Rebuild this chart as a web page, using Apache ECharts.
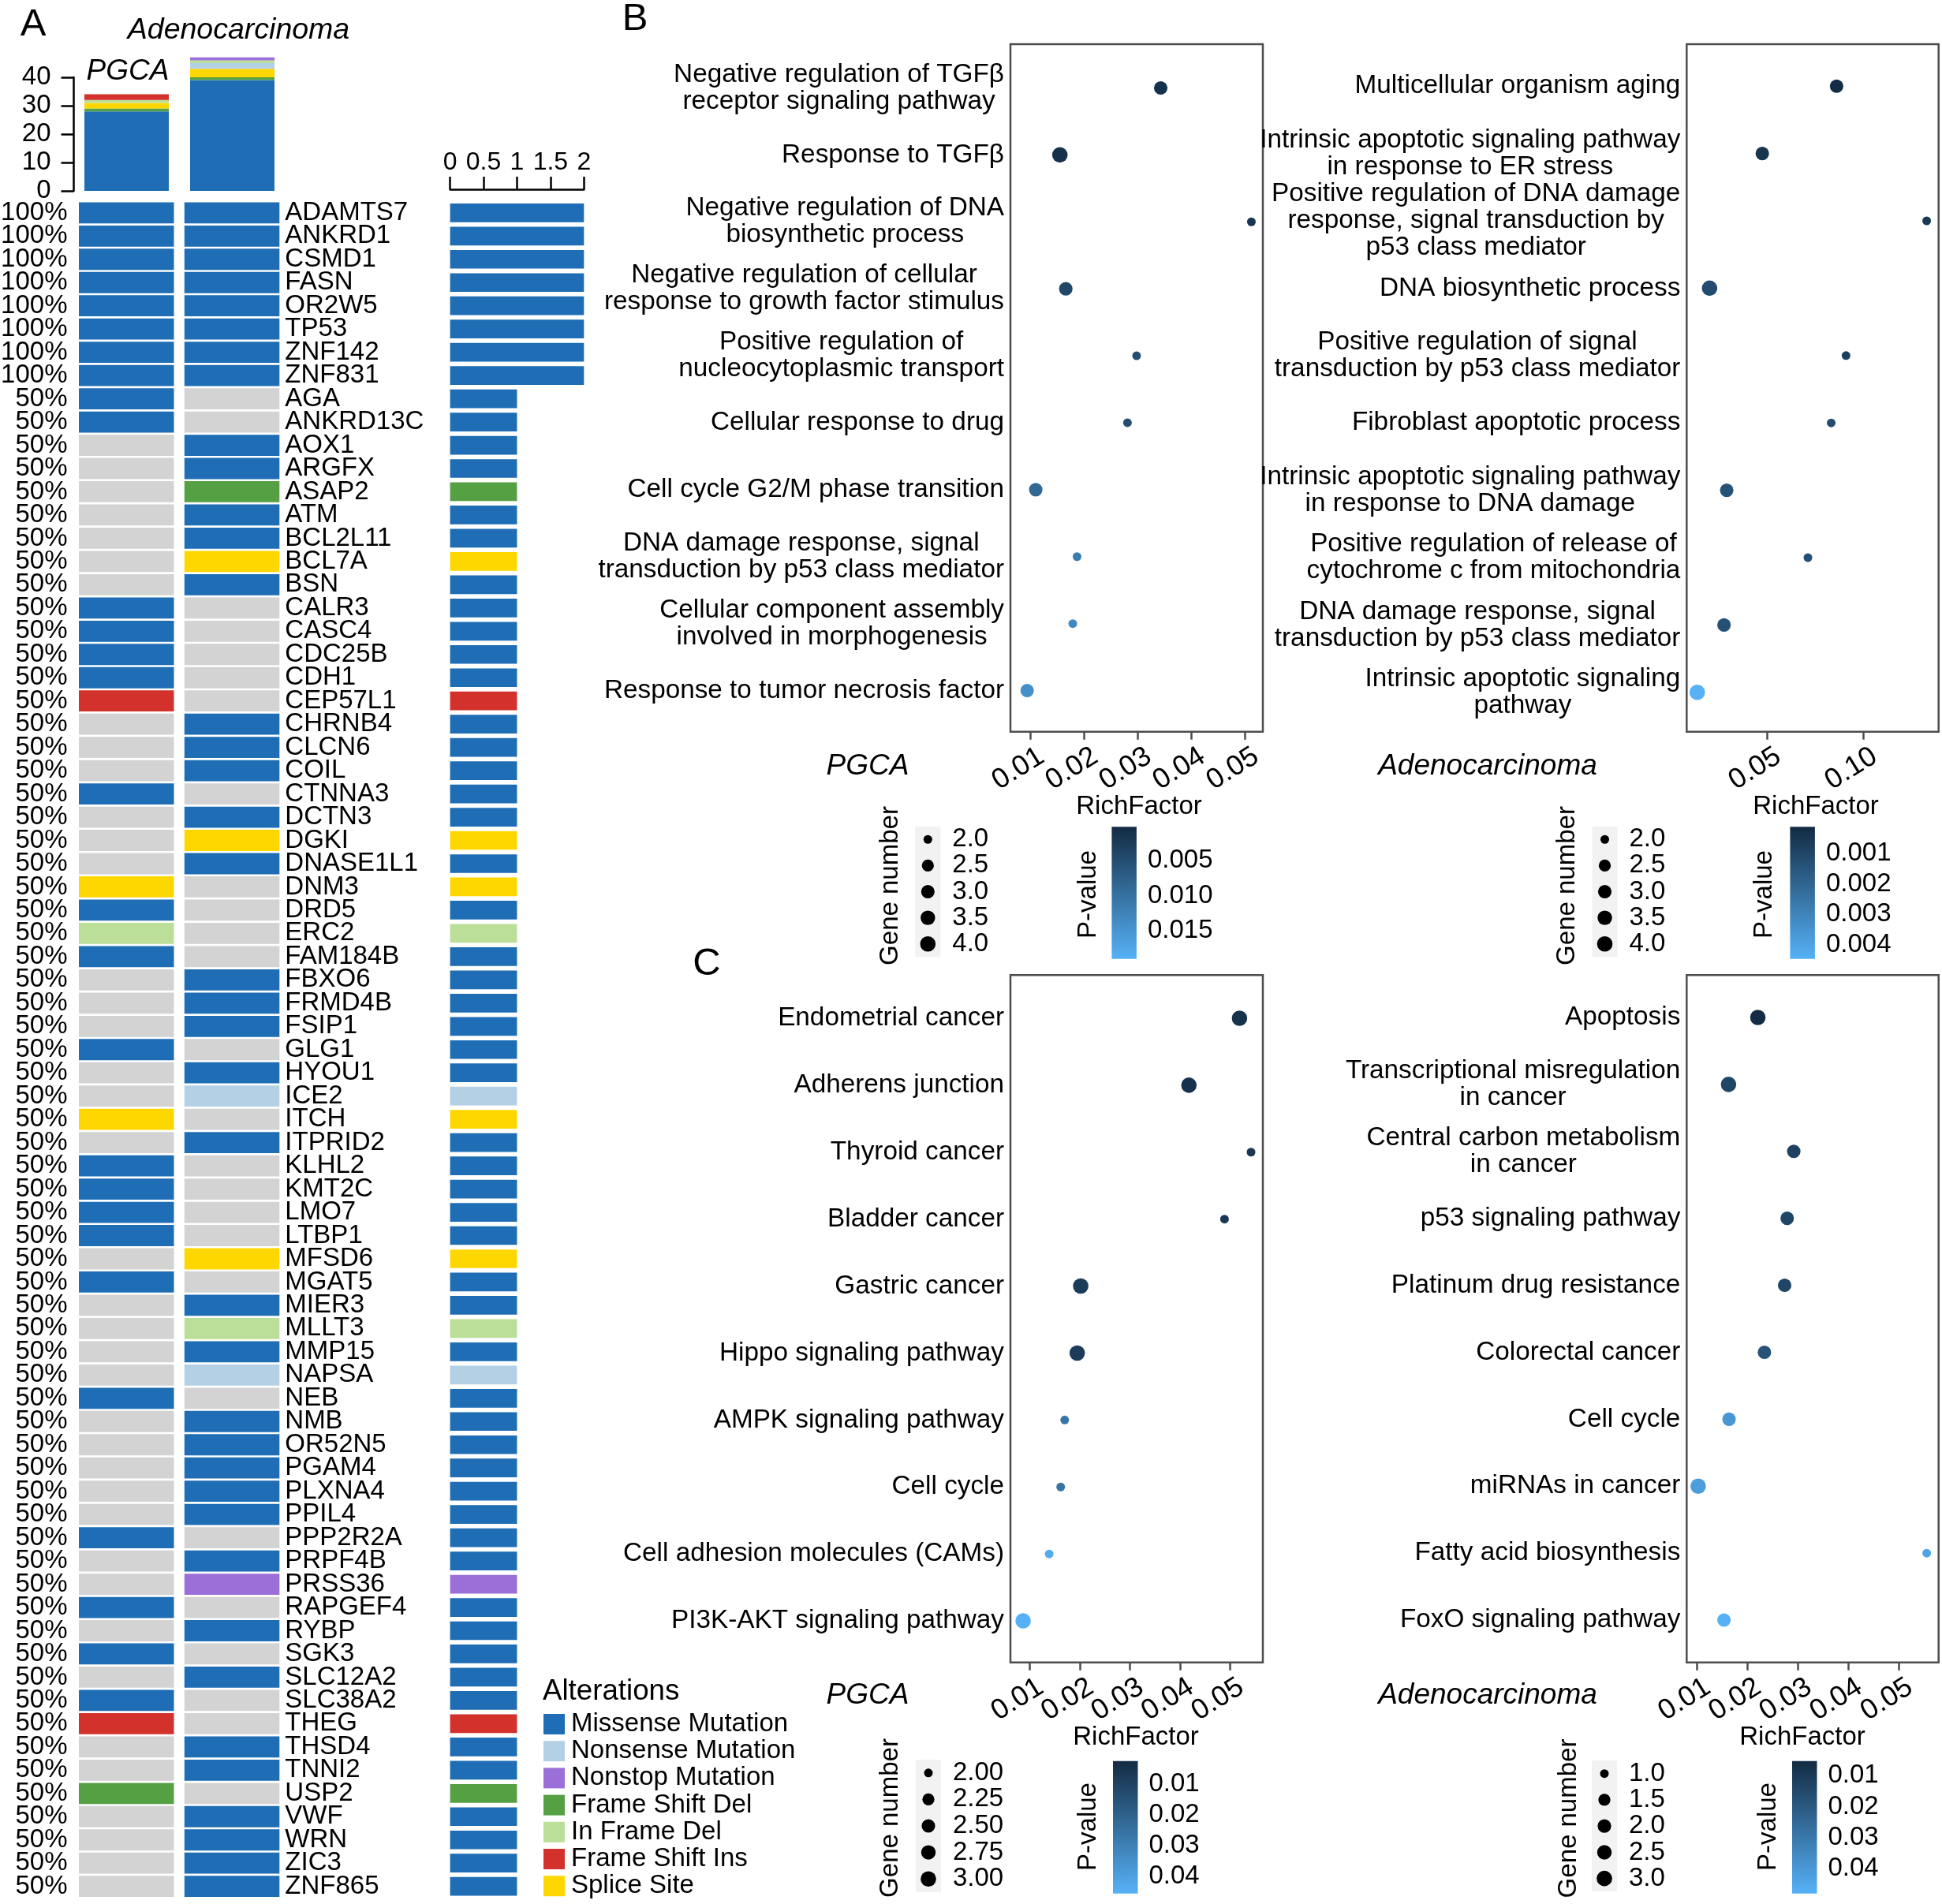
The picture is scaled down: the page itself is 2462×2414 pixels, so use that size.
<!DOCTYPE html>
<html><head><meta charset="utf-8">
<style>html,body{margin:0;padding:0;background:#fff}#c{width:2462px;height:2414px}</style>
<script src="https://cdn.jsdelivr.net/npm/echarts@6/dist/echarts.min.js"></script>
</head><body><div id="c"></div>
<script>
// ---------- Panel A data ----------
const genes = ['ADAMTS7','ANKRD1','CSMD1','FASN','OR2W5','TP53','ZNF142','ZNF831','AGA','ANKRD13C','AOX1','ARGFX','ASAP2','ATM','BCL2L11','BCL7A','BSN','CALR3','CASC4','CDC25B','CDH1','CEP57L1','CHRNB4','CLCN6','COIL','CTNNA3','DCTN3','DGKI','DNASE1L1','DNM3','DRD5','ERC2','FAM184B','FBXO6','FRMD4B','FSIP1','GLG1','HYOU1','ICE2','ITCH','ITPRID2','KLHL2','KMT2C','LMO7','LTBP1','MFSD6','MGAT5','MIER3','MLLT3','MMP15','NAPSA','NEB','NMB','OR52N5','PGAM4','PLXNA4','PPIL4','PPP2R2A','PRPF4B','PRSS36','RAPGEF4','RYBP','SGK3','SLC12A2','SLC38A2','THEG','THSD4','TNNI2','USP2','VWF','WRN','ZIC3','ZNF865'];
// M missense, N nonsense, T nonstop, F frame shift del, D in frame del, I frame shift ins, S splice site, - none
const pgcaAlt = ['M','M','M','M','M','M','M','M','M','M','-','-','-','-','-','-','-','M','M','M','M','I','-','-','-','M','-','-','-','S','M','D','M','-','-','-','M','-','-','S','-','M','M','M','M','-','M','-','-','-','-','M','-','-','-','-','-','M','-','-','M','-','M','-','M','I','-','-','F','-','-','-','-'];
const adenoAlt = ['M','M','M','M','M','M','M','M','-','-','M','M','F','M','M','S','M','-','-','-','-','-','M','M','M','-','M','S','M','-','-','-','-','M','M','M','-','M','N','-','M','-','-','-','-','S','-','M','D','M','N','-','M','M','M','M','M','-','M','T','-','M','-','M','-','-','M','M','-','M','M','M','M'];
const altFreq = [2,2,2,2,2,2,2,2,1,1,1,1,1,1,1,1,1,1,1,1,1,1,1,1,1,1,1,1,1,1,1,1,1,1,1,1,1,1,1,1,1,1,1,1,1,1,1,1,1,1,1,1,1,1,1,1,1,1,1,1,1,1,1,1,1,1,1,1,1,1,1,1,1];
const pctLabels = ['100%','100%','100%','100%','100%','100%','100%','100%'].concat(genes.slice(8).map(()=>'50%'));
const cohorts = ['PGCA','Adenocarcinoma'];
const altNames = ['Missense Mutation','Nonsense Mutation','Nonstop Mutation','Frame Shift Del','In Frame Del','Frame Shift Ins','Splice Site'];
const topMissense = [28,39], topFSDel = [1,1], topSplice = [2,3], topNonsense = [0,2], topInFrame = [1,1], topNonstop = [0,1], topFSIns = [2,0];

// ---------- Panels B / C data ----------
const bpPgcaTerms = ['Negative regulation of TGFβ\nreceptor signaling pathway','Response to TGFβ','Negative regulation of DNA\nbiosynthetic process','Negative regulation of cellular\nresponse to growth factor stimulus','Positive regulation of\nnucleocytoplasmic transport','Cellular response to drug','Cell cycle G2/M phase transition','DNA damage response, signal\ntransduction by p53 class mediator','Cellular component assembly\ninvolved in morphogenesis','Response to tumor necrosis factor'];
const bpPgcaRich = [.0343,.0155,.0512,.0166,.0298,.0281,.0110,.0187,.0179,.0094];
const bpPgcaP = [.0011,.0011,.0017,.004,.005,.005,.0087,.0115,.0134,.0143];
const bpPgcaGenes = [3,4,2,3,2,2,3,2,2,3];
const bpAdenoTerms = ['Multicellular organism aging','Intrinsic apoptotic signaling pathway\nin response to ER stress','Positive regulation of DNA damage\nresponse, signal transduction by\np53 class mediator','DNA biosynthetic process','Positive regulation of signal\ntransduction by p53 class mediator','Fibroblast apoptotic process','Intrinsic apoptotic signaling pathway\nin response to DNA damage','Positive regulation of release of\ncytochrome c from mitochondria','DNA damage response, signal\ntransduction by p53 class mediator','Intrinsic apoptotic signaling\npathway'];
const bpAdenoRich = [.0861,.0475,.1329,.0201,.0910,.0833,.0290,.0712,.0276,.0137];
const bpAdenoP = [.0002,.00042,.00056,.0012,.00077,.0012,.0014,.0013,.00134,.00447];
const bpAdenoGenes = [3,3,2,4,2,2,3,2,3,4];
const keggPgcaTerms = ['Endometrial cancer','Adherens junction','Thyroid cancer','Bladder cancer','Gastric cancer','Hippo signaling pathway','AMPK signaling pathway','Cell cycle','Cell adhesion molecules (CAMs)','PI3K-AKT signaling pathway'];
const keggPgcaRich = [.0519,.0418,.0542,.0489,.0202,.0195,.0170,.0162,.0139,.0087];
const keggPgcaP = [.0046,.0046,.0067,.0067,.0076,.0080,.0262,.0262,.0435,.0457];
const keggPgcaGenes = [3,3,2,2,3,3,2,2,2,3];
const keggAdenoTerms = ['Apoptosis','Transcriptional misregulation\nin cancer','Central carbon metabolism\nin cancer','p53 signaling pathway','Platinum drug resistance','Colorectal cancer','Cell cycle','miRNAs in cancer','Fatty acid biosynthesis','FoxO signaling pathway'];
const keggAdenoRich = [.0221,.0163,.0292,.0279,.0274,.0234,.0164,.0103,.0555,.0154];
const keggAdenoP = [.0053,.0138,.0125,.0138,.0138,.0181,.0396,.0417,.0439,.0481];
const keggAdenoGenes = [3,3,2,2,2,2,2,3,1,2];
const sizeTicksA = ['2.0','2.5','3.0','3.5','4.0'];
const sizeTicksB = ['2.00','2.25','2.50','2.75','3.00'];
const sizeTicksC = ['1.0','1.5','2.0','2.5','3.0'];
const richTicks2 = [.01,.02,.03,.04,.05];
const richTicksBroad = [.05,.10];
const pTicksBP1 = [.005,.01,.015];
const pTicksBP2 = [.001,.002,.003,.004];
const pTicks4 = [.01,.02,.03,.04];

// ---------- Styles ----------
const FONT = '"Liberation Sans", Arial, sans-serif';
const altColor = {M:'#1E6DB5',N:'#B3D0E5',T:'#9A6FD8',F:'#56A044',D:'#BBDF98',I:'#D3312B',S:'#FFD700','-':'#D3D3D3'};
const LOW = '#132B43', HIGH = '#56B1F7', FRAME = '#4d4d4d';
const grid=[], xAxis=[], yAxis=[], series=[], visualMap=[], graphic=[];
function addGrid(g){g.outerBoundsMode='none';g.containLabel=false;grid.push(g);return grid.length-1;}
function addX(a){xAxis.push(a);return xAxis.length-1;}
function addY(a){yAxis.push(a);return yAxis.length-1;}
function text(x,y,t,size,opt){opt=opt||{};graphic.push({type:'text',x:x,y:y,rotation:opt.rot||0,silent:true,
  style:{x:0,y:0,text:t,fill:'#000',align:opt.align||'center',verticalAlign:'middle',font:(opt.italic?'italic ':'')+size+'px '+FONT}});}

// ---------- Panel A: stacked bars ----------
(function(){
  const g=addGrid({left:93.5,top:98,width:268,height:144});
  const x=addX({type:'category',gridIndex:g,data:cohorts,show:false});
  const y=addY({type:'value',gridIndex:g,min:0,max:40,interval:10,
    axisLine:{show:true,lineStyle:{color:'#000',width:2.5}},axisTick:{show:true,length:16,lineStyle:{color:'#000',width:2.5}},
    splitLine:{show:false},axisLabel:{color:'#000',fontSize:33,fontFamily:FONT,margin:29,padding:[8,0,0,0]}});
  [['Missense Mutation',topMissense,'M'],['Frame Shift Del',topFSDel,'F'],['Splice Site',topSplice,'S'],['Nonsense Mutation',topNonsense,'N'],['In Frame Del',topInFrame,'D'],['Nonstop Mutation',topNonstop,'T'],['Frame Shift Ins',topFSIns,'I']].forEach(s=>{
    series.push({type:'bar',name:s[0],xAxisIndex:x,yAxisIndex:y,stack:'top',barWidth:107,clip:false,data:s[1],itemStyle:{color:altColor[s[2]]}});
  });
})();
// heat columns
function heatColumn(left,alts,yCfg){
  const g=addGrid({left:left,top:255.1,width:120.5,height:2151.3});
  const x=addX({type:'value',gridIndex:g,min:0,max:1,show:false});
  const y=addY(Object.assign({type:'category',gridIndex:g,inverse:true,data:genes,axisLine:{show:false},axisTick:{show:false}},yCfg));
  series.push({type:'bar',xAxisIndex:x,yAxisIndex:y,barWidth:26.8,silent:true,
    data:alts.map(a=>({value:1,itemStyle:{color:altColor[a]}}))});
}
heatColumn(100,pgcaAlt,{axisLabel:{interval:0,color:'#000',fontSize:33,fontFamily:FONT,margin:14.5,padding:[4,0,0,0],formatter:(v,i)=>pctLabels[i]}});
heatColumn(233.8,adenoAlt,{position:'right',axisLabel:{interval:0,color:'#000',fontSize:33,fontFamily:FONT,margin:7,padding:[4,0,0,0]}});
// right frequency bars
(function(){
  const g=addGrid({left:570.6,top:255.1,width:169.7,height:2151.3});
  const x=addX({type:'value',gridIndex:g,min:0,max:2,interval:.5,position:'top',offset:15,
    axisLine:{show:true,lineStyle:{color:'#000',width:2.5}},axisTick:{show:true,length:16,lineStyle:{color:'#000',width:2.5}},
    splitLine:{show:false},axisLabel:{color:'#000',fontSize:32,fontFamily:FONT,margin:18,hideOverlap:false,showMinLabel:true,showMaxLabel:true}});
  const y=addY({type:'category',gridIndex:g,inverse:true,data:genes,show:false});
  series.push({type:'bar',xAxisIndex:x,yAxisIndex:y,barWidth:23.7,silent:true,
    data:altFreq.map((v,i)=>({value:v,itemStyle:{color:altColor[pgcaAlt[i]!=='-'?pgcaAlt[i]:adenoAlt[i]]}}))});
})();

// ---------- Bubble panels ----------
function dotSize(g,lo,hi){return 11+8.6*Math.sqrt((g-lo)/(hi-lo));}
function richAxis(g,c,off,ticks){
  return addX({type:'value',gridIndex:g,min:c.min,max:c.max,position:'bottom',offset:off,scale:true,
    axisLine:{show:false},splitLine:{show:false},
    axisTick:{show:true,length:10,customValues:ticks,lineStyle:{color:FRAME,width:2.5}},
    axisLabel:{customValues:ticks,rotate:32,align:'center',verticalAlign:'middle',padding:[0,36,0,0],lineHeight:28,fontSize:36,color:'#000',fontFamily:FONT,margin:37.5,hideOverlap:false,showMinLabel:true,showMaxLabel:true,formatter:v=>(+v).toFixed(2)}});
}
function bubble(c){
  addGrid({left:c.left,top:c.top,width:c.w,height:c.h,show:true,borderColor:FRAME,borderWidth:2.5,backgroundColor:'#fff'});
  const g=addGrid({left:c.left,top:c.innerTop,width:c.w,height:c.innerH});
  const off=(c.top+c.h)-(c.innerTop+c.innerH);
  // alternate ticks live on two coincident axes so that the rotated labels are never thinned out
  const x=richAxis(g,c,off,c.ticks.filter((t,i)=>i%2===0));
  const oddTicks=c.ticks.filter((t,i)=>i%2===1);
  richAxis(g,c,off,oddTicks);
  const y=addY({type:'category',gridIndex:g,inverse:true,data:c.terms,axisLine:{show:false},axisTick:{show:false},
    axisLabel:{interval:0,align:'right',margin:8,hideOverlap:false,color:'#000',fontFamily:FONT,fontSize:33.3,
      formatter:v=>v.split('\n').map(l=>'{c|'+l+'}').join('\n'),
      rich:{c:{align:'center',fontSize:33.3,lineHeight:34,color:'#000',fontFamily:FONT}}}});
  const lo=+c.sizeTicks[0], hi=+c.sizeTicks[4];
  series.push({type:'scatter',xAxisIndex:x,yAxisIndex:y,clip:false,silent:true,
    data:c.rich.map((r,i)=>[r,i,c.p[i],c.genes[i]]),encode:{x:0,y:1},
    symbolSize:v=>dotSize(v[3],lo,hi),itemStyle:{opacity:1}});
  visualMap.push({type:'continuous',show:false,seriesIndex:series.length-1,dimension:2,min:c.pMin,max:c.pMax,inRange:{color:[LOW,HIGH]}});
  // size legend
  const lg=addGrid({left:c.sl,top:c.st,width:32,height:c.sh,show:true,borderWidth:0,backgroundColor:'#f2f2f2'});
  const lx=addX({type:'category',gridIndex:lg,data:['n'],show:false});
  const ly=addY({type:'category',gridIndex:lg,inverse:true,position:'right',data:c.sizeTicks,axisLine:{show:false},axisTick:{show:false},
    axisLabel:{interval:0,color:'#000',fontSize:33,fontFamily:FONT,margin:15}});
  series.push({type:'scatter',xAxisIndex:lx,yAxisIndex:ly,silent:true,itemStyle:{color:'#000',opacity:1},
    data:c.sizeTicks.map(t=>['n',t]),symbolSize:v=>dotSize(+v[1],lo,hi)});
  // colour bar
  const cg=addGrid({left:c.cl,top:c.ct,width:31.5,height:c.ch});
  const cx=addX({type:'category',gridIndex:cg,data:['p'],show:false});
  const cy=addY({type:'value',gridIndex:cg,inverse:true,position:'right',min:c.pMin,max:c.pMax,axisLine:{show:false},splitLine:{show:false},
    axisTick:{show:true,inside:true,length:6,customValues:c.pTicks,lineStyle:{color:'rgba(255,255,255,.7)',width:1.5}},
    axisLabel:{customValues:c.pTicks,color:'#000',fontSize:33,fontFamily:FONT,margin:14,padding:[5,0,0,0],hideOverlap:false,showMinLabel:true,showMaxLabel:true,formatter:v=>(+v).toFixed(c.pDigits)}});
  addY({type:'value',gridIndex:cg,inverse:true,position:'left',min:c.pMin,max:c.pMax,axisLine:{show:false},splitLine:{show:false},axisLabel:{show:false},
    axisTick:{show:true,inside:true,length:6,customValues:c.pTicks,lineStyle:{color:'rgba(255,255,255,.7)',width:1.5}}});
  series.push({type:'bar',xAxisIndex:cx,yAxisIndex:cy,barWidth:'100%',silent:true,data:[c.pMax],
    itemStyle:{color:{type:'linear',x:0,y:0,x2:0,y2:1,colorStops:[{offset:0,color:LOW},{offset:1,color:HIGH}]}}});
  // captions
  text(c.geneX+1.5,c.geneY,'Gene number',33,{rot:Math.PI/2});
  text(c.pX+1.5,c.pY,'P-value',33,{rot:Math.PI/2});
  text(c.rfX,c.rfY+1.5,'RichFactor',33);
  text(c.nameX,c.nameY,c.name,37,{italic:true});
}
bubble({name:'PGCA',terms:bpPgcaTerms,rich:bpPgcaRich,p:bpPgcaP,genes:bpPgcaGenes,sizeTicks:sizeTicksA,ticks:richTicks2,pTicks:pTicksBP1,pDigits:3,
  left:1281,top:56,w:320,h:871.7,innerTop:69,innerH:849,min:.00628,max:.05334,pMin:.0002,pMax:.019,
  sl:1160.3,st:1047.7,sh:165.6,cl:1409.4,ct:1048.3,ch:167.4,geneX:1127,geneY:1123,pX:1378.6,pY:1134,rfX:1444,rfY:1021,nameX:1100,nameY:972});
bubble({name:'Adenocarcinoma',terms:bpAdenoTerms,rich:bpAdenoRich,p:bpAdenoP,genes:bpAdenoGenes,sizeTicks:sizeTicksA,ticks:richTicksBroad,pTicks:pTicksBP2,pDigits:3,
  left:2138.3,top:56,w:319.4,h:871.7,innerTop:66.5,innerH:854,min:.0082,max:.1391,pMin:.00012,pMax:.00447,
  sl:2018.5,st:1047.7,sh:165.6,cl:2269.4,ct:1048.3,ch:167.4,geneX:1985,geneY:1123,pX:2235.6,pY:1134,rfX:2302,rfY:1021,nameX:1886,nameY:972});
bubble({name:'PGCA',terms:keggPgcaTerms,rich:keggPgcaRich,p:keggPgcaP,genes:keggPgcaGenes,sizeTicks:sizeTicksB,ticks:richTicks2,pTicks:pTicks4,pDigits:2,
  left:1281,top:1236.3,w:320,h:871.4,innerTop:1248.5,innerH:849,min:.00617,max:.05656,pMin:.0024,pMax:.0457,
  sl:1161,st:2231,sh:168,cl:1411,ct:2232.7,ch:168,geneX:1127,geneY:2305,pX:1378.6,pY:2316,rfX:1440,rfY:2201,nameX:1100,nameY:2149.5});
bubble({name:'Adenocarcinoma',terms:keggAdenoTerms,rich:keggAdenoRich,p:keggAdenoP,genes:keggAdenoGenes,sizeTicks:sizeTicksC,ticks:richTicks2,pTicks:pTicks4,pDigits:2,
  left:2138.3,top:1236.3,w:319.4,h:871.4,innerTop:1247.5,innerH:849,min:.00802,max:.05785,pMin:.00525,pMax:.0481,
  sl:2018,st:2232,sh:166.3,cl:2272,ct:2232.7,ch:168,geneX:1987.7,geneY:2305.5,pX:2240,pY:2316,rfX:2285,rfY:2201,nameX:1886,nameY:2149.5});

// ---------- Free captions ----------
text(42,31,'A',49); text(805,24,'B',49); text(896,1222,'C',49);
text(302.5,38.5,'Adenocarcinoma',37.5,{italic:true});
text(162,91,'PGCA',37,{italic:true});
text(688,2144.5,'Alterations',36.7,{align:'left'});

const chart=echarts.init(document.getElementById('c'),null,{renderer:'canvas',width:2462,height:2414});
chart.setOption({animation:false,backgroundColor:'#fff',textStyle:{fontFamily:FONT},
  grid,xAxis,yAxis,series,visualMap,graphic:{elements:graphic},
  legend:{show:true,orient:'vertical',left:689,top:2169.5,height:244,padding:0,itemWidth:27,itemHeight:26,itemGap:1.2,icon:'rect',selectedMode:false,
    data:altNames,textStyle:{fontSize:33,color:'#000',fontFamily:FONT,lineHeight:26,padding:[0,0,0,3]}}
});
</script></body></html>
